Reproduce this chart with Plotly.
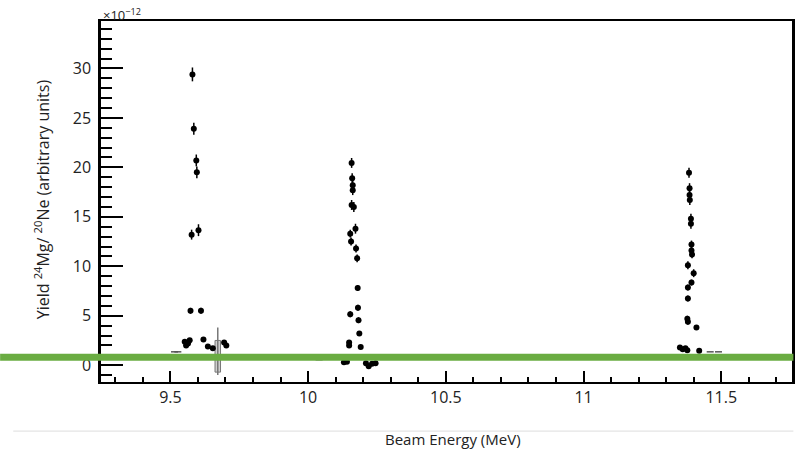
import plotly.graph_objects as go

# ---- data (beam energy in MeV, yield in units of 1e-12) ----
peak1_x = [9.580, 9.585, 9.594, 9.596, 9.577, 9.602, 9.573, 9.611, 9.552, 9.564,
           9.570, 9.557, 9.620, 9.636, 9.654, 9.695, 9.703]
peak1_y = [29.4, 23.9, 20.7, 19.5, 13.2, 13.65, 5.5, 5.5, 2.36, 2.2,
           2.53, 2.0, 2.6, 1.9, 1.7, 2.3, 2.0]
peak1_err = [0.7, 0.6, 0.6, 0.6, 0.5, 0.6, 0.3, 0.3, 0.2, 0.2,
             0.2, 0.2, 0.2, 0.2, 0.2, 0.2, 0.2]

peak2_x = [10.158, 10.160, 10.162, 10.162, 10.158, 10.166, 10.172, 10.153, 10.156, 10.174,
           10.178, 10.180, 10.181, 10.153, 10.183, 10.186, 10.149, 10.149, 10.191,
           10.141, 10.130, 10.210, 10.220, 10.232, 10.245]
peak2_y = [20.45, 18.9, 18.2, 17.7, 16.2, 16.0, 13.8, 13.3, 12.5, 11.8,
           10.8, 7.8, 5.8, 5.15, 4.55, 3.2, 2.3, 2.0, 1.85,
           0.35, 0.3, 0.2, -0.1, 0.15, 0.2]
peak2_err = [0.5, 0.5, 0.5, 0.5, 0.5, 0.5, 0.5, 0.4, 0.4, 0.4,
             0.4, 0.3, 0.3, 0.3, 0.3, 0.2, 0.2, 0.2, 0.2,
             0.1, 0.1, 0.1, 0.1, 0.1, 0.1]

peak3_x = [11.383, 11.385, 11.385, 11.386, 11.390, 11.390, 11.392, 11.392, 11.394, 11.379,
           11.400, 11.392, 11.379, 11.379, 11.377, 11.379, 11.410, 11.350, 11.360, 11.370,
           11.377, 11.420]
peak3_y = [19.45, 17.9, 17.2, 16.7, 14.8, 14.3, 12.2, 11.6, 11.2, 10.1,
           9.3, 8.35, 7.85, 6.75, 4.7, 4.4, 3.8, 1.8, 1.6, 1.7,
           1.5, 1.45]
peak3_err = [0.5, 0.5, 0.5, 0.5, 0.5, 0.5, 0.4, 0.4, 0.4, 0.4,
             0.4, 0.3, 0.3, 0.3, 0.3, 0.3, 0.2, 0.2, 0.2, 0.2,
             0.2, 0.2]

faint_x = [9.515, 9.527, 10.010, 10.040, 10.070, 11.460, 11.490]
faint_y = [1.35, 1.35, 0.6, 0.55, 0.6, 1.35, 1.35]

box_x = [9.672]
box_low = [-0.7]
box_high = [2.5]
box_err_low = [-1.0]
box_err_high = [3.8]

green_level = 0.81

x_ticks = [9.5, 10, 10.5, 11, 11.5]
x_ticklabels = ["9.5", "10", "10.5", "11", "11.5"]
y_ticks = [0, 5, 10, 15, 20, 25, 30]
y_ticklabels = ["0", "5", "10", "15", "20", "25", "30"]

FONT = "Open Sans"

fig = go.Figure()

# gray box point
fig.add_trace(go.Bar(
    x=box_x, base=box_low, y=[h - l for h, l in zip(box_high, box_low)],
    width=0.02, marker=dict(color="#cfcfcf", line=dict(color="#777777", width=1)),
    showlegend=False, hoverinfo="skip"))
fig.add_trace(go.Scatter(
    x=box_x, y=[(a + b) / 2 for a, b in zip(box_err_low, box_err_high)], mode="markers",
    marker=dict(size=1, color="#777777"),
    error_y=dict(type="data", array=[(b - a) / 2 for a, b in zip(box_err_low, box_err_high)],
                 color="#777777", thickness=1.5, width=0),
    showlegend=False))

fig.add_trace(go.Scatter(
    x=faint_x, y=faint_y, mode="markers",
    marker=dict(symbol="line-ew", size=5, line=dict(color="#555555", width=1.5)),
    showlegend=False))

for xs, ys, es in [(peak1_x, peak1_y, peak1_err), (peak2_x, peak2_y, peak2_err),
                   (peak3_x, peak3_y, peak3_err)]:
    fig.add_trace(go.Scatter(
        x=xs, y=ys, mode="markers",
        marker=dict(size=6, color="black"),
        error_y=dict(type="data", array=es, color="black", thickness=1.5, width=0),
        showlegend=False))

fig.update_layout(
    width=796, height=449,
    margin=dict(l=101, r=1, t=21, b=67),
    paper_bgcolor="white", plot_bgcolor="white",
    font=dict(family=FONT, color="#222222", size=16),
    barmode="overlay",
    xaxis=dict(range=[9.248, 11.757], tickvals=x_ticks, ticktext=x_ticklabels,
               ticks="inside", ticklen=11, tickwidth=2, tickcolor="black",
               minor=dict(dtick=0.1, tick0=9.5, ticks="inside", ticklen=5, tickwidth=2,
                          tickcolor="black"),
               showline=True, linecolor="black", linewidth=2, mirror=True,
               showgrid=False, zeroline=False, tickfont=dict(size=16)),
    yaxis=dict(range=[-1.7, 34.8], tickvals=y_ticks, ticktext=y_ticklabels,
               ticks="inside", ticklen=22, tickwidth=2, tickcolor="black",
               minor=dict(dtick=1, tick0=0, ticks="inside", ticklen=11, tickwidth=2,
                          tickcolor="black"),
               showline=True, linecolor="black", linewidth=2.5, mirror=True,
               showgrid=False, zeroline=False, tickfont=dict(size=16),
               ticklabelstandoff=4),
    shapes=[
        dict(type="line", xref="paper", yref="y", x0=-0.146, x1=1.002,
             y0=green_level, y1=green_level, line=dict(color="#6aac42", width=7),
             layer="above"),
        dict(type="line", xref="paper", yref="paper", x0=-0.127, x1=1.002,
             y0=-0.136, y1=-0.136, line=dict(color="#dddddd", width=1)),
    ],
    annotations=[
        dict(text="Beam Energy (MeV)", xref="paper", yref="paper", x=0.510, y=-0.158,
             xanchor="center", yanchor="middle", showarrow=False, font=dict(size=15)),
        dict(text="Yield <sup>24</sup>Mg/ <sup>20</sup>Ne (arbitrary units)",
             xref="paper", yref="paper", x=-0.086, y=0.505, textangle=-90,
             xanchor="center", yanchor="middle", showarrow=False, font=dict(size=16)),
        dict(text="×10<sup>−12</sup>", xref="paper", yref="paper", x=0.0, y=1.017,
             xanchor="left", yanchor="middle", showarrow=False, font=dict(size=13)),
    ],
)

fig.write_html("out.html")
